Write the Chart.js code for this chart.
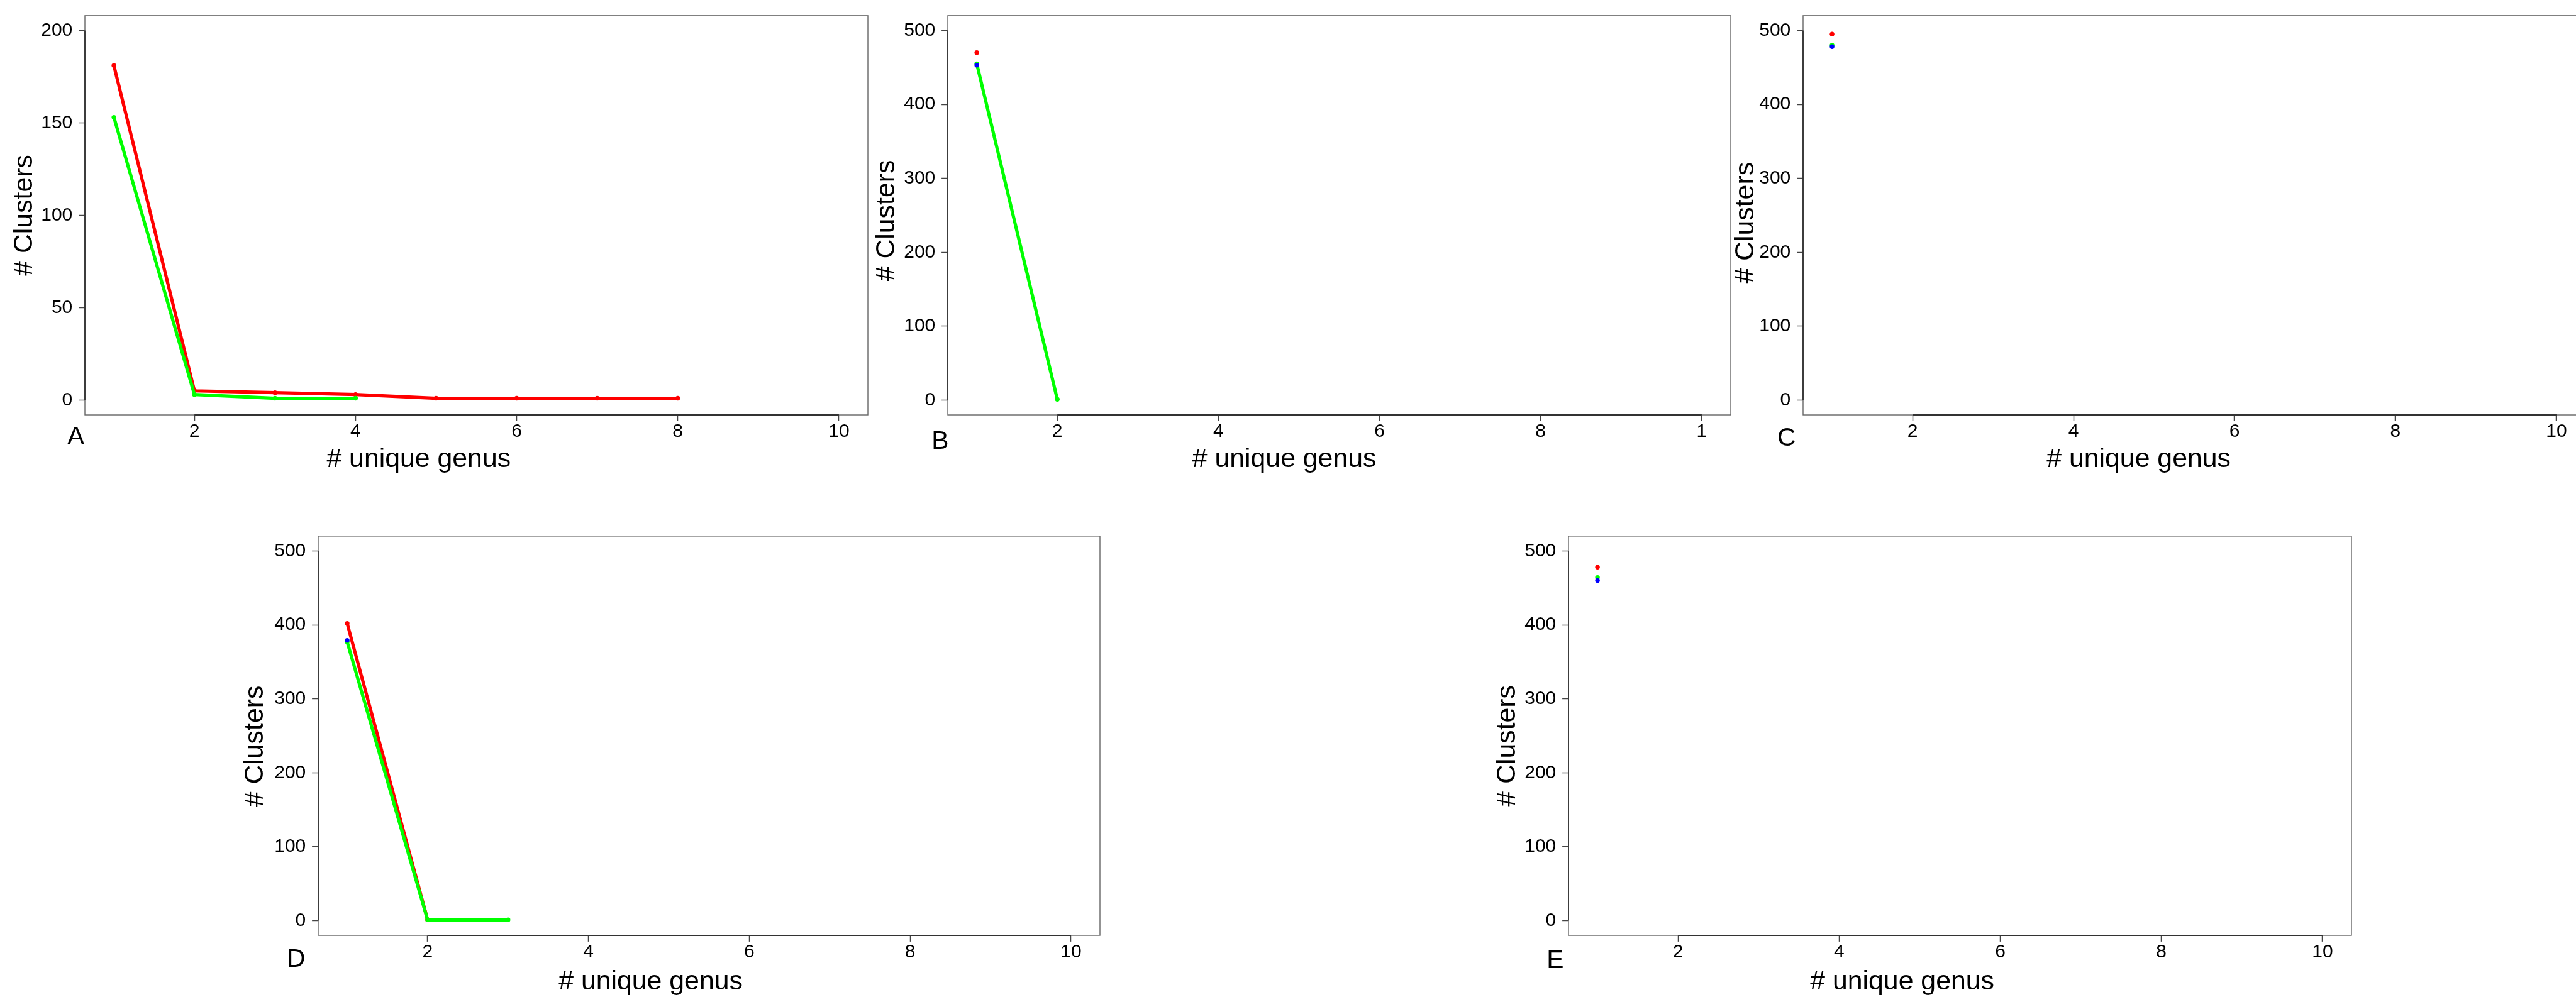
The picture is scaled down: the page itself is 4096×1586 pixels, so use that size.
<!DOCTYPE html>
<html>
<head>
<meta charset="utf-8">
<script src="https://cdn.jsdelivr.net/npm/chart.js@4"></script>
<style>
  html, body { margin: 0; padding: 0; background: #fff; overflow: hidden; }
  body { width: 4096px; height: 1586px; position: relative; }
  canvas { position: absolute; }
</style>
</head>
<body>
<script>
// ===== data =====
const xTicks = [2, 4, 6, 8, 10];
const xTickLabels = ['2', '4', '6', '8', '10'];
const xTickLabelsB = ['2', '4', '6', '8', '1'];   // the "0" of 10 is cut off in the source figure
const yTicksA = [0, 50, 100, 150, 200];
const yTicks = [0, 100, 200, 300, 400, 500];
const panelLetters = ['A', 'B', 'C', 'D', 'E'];
const xTitle = '# unique genus';
const yTitle = '# Clusters';

// panel A
const aRedX = [1, 2, 3, 4, 5, 6, 7, 8];
const aRedY = [181, 5, 4, 3, 1, 1, 1, 1];
const aGreenX = [1, 2, 3, 4];
const aGreenY = [153, 3, 1, 1];
// panel B
const bRedX = [1], bRedY = [470];
const bGreenX = [1, 2], bGreenY = [455, 1];
const bBlueX = [1], bBlueY = [453];
// panel C
const cRedX = [1], cRedY = [495];
const cGreenX = [1], cGreenY = [480];
const cBlueX = [1], cBlueY = [478];
// panel D
const dRedX = [1, 2], dRedY = [402, 1];
const dGreenX = [1, 2, 3], dGreenY = [377, 1, 1];
const dBlueX = [1], dBlueY = [379];
// panel E
const eRedX = [1], eRedY = [478];
const eGreenX = [1], eGreenY = [464];
const eBlueX = [1], eBlueY = [460];

// ===== layout (reference pixels, scaled below) =====
const S = 4096 / 6220;
const RED = '#ff0000', GREEN = '#00ff00', BLUE = '#0000ff';

const pts = (xs, ys) => xs.map((x, i) => ({ x, y: ys[i] }));

const panels = [
  { box: [205, 17, 2095, 1003], y: [-8, 208], yt: yTicksA, xl: xTickLabels,
    letter: [-22, 70], yTit: [-145, 10], xTit: [-139, 125],
    series: [[aRedX, aRedY, RED], [aGreenX, aGreenY, GREEN]] },
  { box: [2289, 17, 4179, 1003], y: [-20, 520], yt: yTicks, xl: xTickLabelsB,
    letter: [-19, 81], yTit: [-147, 23], xTit: [-133, 125],
    series: [[bRedX, bRedY, RED], [bGreenX, bGreenY, GREEN], [bBlueX, bBlueY, BLUE]] },
  { box: [4353, 17, 6243, 1003], y: [-20, 520], yt: yTicks, xl: xTickLabels,
    letter: [-39, 74], yTit: [-137, 28], xTit: [-134, 125],
    series: [[cRedX, cRedY, RED], [cGreenX, cGreenY, GREEN], [cBlueX, cBlueY, BLUE]] },
  { box: [768, 1274, 2656, 2259], y: [-20, 520], yt: yTicks, xl: xTickLabels,
    letter: [-53, 77], yTit: [-151, 36], xTit: [-141, 131],
    series: [[dRedX, dRedY, RED], [dGreenX, dGreenY, GREEN], [dBlueX, dBlueY, BLUE]] },
  { box: [3788, 1274, 5678, 2259], y: [-20, 520], yt: yTicks, xl: xTickLabels,
    letter: [-33, 79], yTit: [-147, 35], xTit: [-140, 131],
    series: [[eRedX, eRedY, RED], [eGreenX, eGreenY, GREEN], [eBlueX, eBlueY, BLUE]] }
];

const FONT = "'Liberation Sans', Arial, Helvetica, sans-serif";
Chart.defaults.font.family = FONT;
Chart.defaults.color = '#000';

// box, axis lines, titles and panel letter
const framePlugin = {
  id: 'frame',
  afterDraw(chart, args, o) {
    const { ctx, chartArea: a, scales } = chart;
    const p = o.panel, cl = o.cl, ct = o.ct;
    const X = v => v * S - cl, Y = v => v * S - ct;
    ctx.save();
    ctx.strokeStyle = '#666';
    ctx.lineWidth = 1.4;
    ctx.strokeRect(a.left, a.top, a.right - a.left, a.bottom - a.top);
    // R style axis lines from first to last tick
    ctx.strokeStyle = '#333';
    ctx.lineWidth = 1.8;
    ctx.beginPath();
    ctx.moveTo(scales.x.getPixelForValue(xTicks[0]), a.bottom);
    ctx.lineTo(scales.x.getPixelForValue(xTicks[xTicks.length - 1]), a.bottom);
    ctx.moveTo(a.left, scales.y.getPixelForValue(p.yt[0]));
    ctx.lineTo(a.left, scales.y.getPixelForValue(p.yt[p.yt.length - 1]));
    ctx.stroke();

    const [L, T, R, B] = p.box;
    ctx.fillStyle = '#000';
    // x title
    ctx.font = `${65 * S}px ${FONT}`;
    ctx.textAlign = 'center';
    ctx.textBaseline = 'alphabetic';
    ctx.fillText(xTitle, X((L + R) / 2 + p.xTit[0]), Y(B + p.xTit[1]));
    // y title
    ctx.save();
    ctx.translate(X(L + p.yTit[0]), Y((T + B) / 2 + p.yTit[1]));
    ctx.rotate(-Math.PI / 2);
    ctx.textBaseline = 'middle';
    ctx.fillText(yTitle, 0, 0);
    ctx.restore();
    // panel letter
    ctx.font = `${62 * S}px ${FONT}`;
    ctx.textAlign = 'center';
    ctx.textBaseline = 'alphabetic';
    ctx.fillText(o.letter, X(L + p.letter[0]), Y(B + p.letter[1]));
    ctx.restore();
  }
};

panels.forEach((p, idx) => {
  const [L, T, R, B] = p.box;
  const cl = Math.round((L - 205) * S);
  const ct = Math.round((T - 17) * S);
  const cw = Math.round((R + 15) * S) - cl;
  const ch = Math.round((B + 165) * S) - ct;
  const mL = Math.round(L * S) - cl;
  const mT = Math.round(T * S) - ct;
  const mR = cw - (Math.round(R * S) - cl);
  const mB = ch - (Math.round(B * S) - ct);

  const cv = document.createElement('canvas');
  cv.width = cw; cv.height = ch;
  cv.style.left = cl + 'px'; cv.style.top = ct + 'px';
  cv.style.width = cw + 'px'; cv.style.height = ch + 'px';
  document.body.appendChild(cv);

  // blue drawn on top, then green, then red
  const datasets = p.series.slice().reverse().map(([xs, ys, col]) => ({
    data: pts(xs, ys),
    showLine: true,
    borderColor: col,
    backgroundColor: col,
    borderWidth: 5.2,
    borderCapStyle: 'round',
    borderJoinStyle: 'round',
    tension: 0,
    pointRadius: 3.7,
    pointBorderWidth: 0,
    pointBackgroundColor: col,
    pointHoverRadius: 3.7
  }));

  const tickLen = 15 * S;
  new Chart(cv, {
    type: 'scatter',
    data: { datasets },
    options: {
      responsive: false,
      animation: false,
      devicePixelRatio: 1,
      layout: { padding: { left: 0, top: mT, right: mR, bottom: 0 } },
      plugins: {
        legend: { display: false },
        tooltip: { enabled: false },
        frame: { panel: p, cl, ct, letter: panelLetters[idx] }
      },
      scales: {
        x: {
          type: 'linear', min: 0.64, max: 10.36,
          afterBuildTicks: sc => { sc.ticks = xTicks.map(v => ({ value: v })); },
          afterFit: sc => { sc.height = mB; },
          border: { display: false },
          grid: { drawOnChartArea: false, drawTicks: true, tickLength: tickLen, tickColor: '#444', tickWidth: 1.5 },
          ticks: {
            autoSkip: false, maxRotation: 0, padding: 2,
            font: { size: 30, lineHeight: 1 },
            callback: v => p.xl[xTicks.indexOf(v)]
          }
        },
        y: {
          type: 'linear', min: p.y[0], max: p.y[1],
          afterBuildTicks: sc => { sc.ticks = p.yt.map(v => ({ value: v })); },
          afterFit: sc => { sc.width = mL; },
          border: { display: false },
          grid: { drawOnChartArea: false, drawTicks: true, tickLength: tickLen, tickColor: '#444', tickWidth: 1.5 },
          ticks: {
            autoSkip: false, padding: 15 * S,
            font: { size: 30, lineHeight: 1 },
            callback: v => String(v)
          }
        }
      }
    },
    plugins: [framePlugin]
  });
});
</script>
</body>
</html>
